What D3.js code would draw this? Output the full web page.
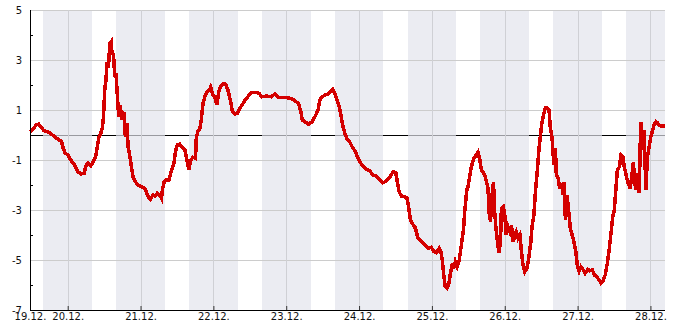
<!DOCTYPE html>
<html>
<head>
<meta charset="utf-8">
<script src="https://cdn.jsdelivr.net/npm/d3@7"></script>
<style>
  body { margin: 0; background: #fff; }
  svg { display: block; font-family: "DejaVu Sans", sans-serif; }
</style>
</head>
<body>
<div id="chart"></div>
<script>
// hours counted from 19.12. 00:00
const hours = [
  11.6, 13.7, 14.4, 15.3, 16.2, 17.5, 18.6, 19.7, 20.8, 21.9, 22.5, 23.2, 24.1, 25.0, 26.3, 27.4,
  28.5, 29.4, 30.1, 30.7, 31.6, 32.4, 33.2, 33.7, 34.2, 34.9, 35.4, 35.8, 36.2, 36.6, 37.0, 37.4,
  37.9, 38.3, 38.6, 39.1, 39.5, 39.9, 40.4, 40.8, 41.3, 41.9, 42.5, 43.0, 43.5, 43.9, 44.5, 45.0,
  45.5, 46.3, 47.2,
  48.5, 49.6, 50.5, 51.2, 52.1, 52.9, 53.5, 54.3, 54.9, 55.2, 55.8, 56.5, 57.4, 58.2, 59.0, 59.5,
  60.1, 60.9, 61.7, 62.6, 63.4, 63.9, 64.6, 65.3, 66.1, 66.4, 67.0, 67.6, 68.0, 68.6, 69.2, 69.9,
  70.7, 71.1, 71.9, 72.7, 73.1, 73.8, 74.4, 75.2, 76.0, 76.8, 77.7, 78.3, 79.1, 79.9, 80.7, 81.8,
  82.9,
  84.5, 85.8, 87.0, 88.0, 89.5, 91.1, 92.2, 93.3, 94.4, 95.7, 97.2, 98.3, 99.3, 100.1, 100.8, 101.3,
  102.3, 103.4, 104.5, 105.6, 106.5, 107.1, 107.8, 108.9, 109.8, 110.7, 111.3, 112.0, 112.9, 113.6,
  114.2, 114.7, 115.5, 116.2, 116.9, 117.7, 118.6, 119.7,
  120.2, 121.3, 122.4, 123.5, 124.6, 125.7, 126.8, 127.9, 129.0, 130.1, 131.2, 132.1, 132.6, 133.2,
  133.9, 135.1, 135.8, 136.4, 136.9, 137.5, 138.4, 138.9, 139.4, 140.5, 141.6, 142.7, 143.8, 144.7,
  145.5, 146.4, 146.9, 147.4, 147.9, 148.4, 149.0, 149.6, 150.1, 150.8, 151.2, 151.7, 152.3, 153.0,
  153.7, 154.4, 154.8, 155.5, 155.9,
  156.5, 157.0, 157.8, 158.6, 159.2, 159.8, 160.3, 160.9, 161.4, 162.0, 162.5, 162.8, 163.3, 163.8,
  164.3, 164.6, 165.1, 165.6, 166.1, 166.6, 166.9, 167.5, 168.0, 168.5, 169.1, 169.7, 170.2, 170.8,
  171.3, 171.8, 172.4, 173.0, 173.5, 174.0, 174.6, 175.3, 175.9, 176.6, 177.0, 177.6, 178.1, 178.7,
  179.2, 179.7, 180.3, 180.9, 181.4, 182.1, 182.6, 183.0, 183.6, 183.9, 184.3, 184.7, 185.0, 185.6,
  186.1, 186.7, 187.2, 187.5, 188.0, 188.5, 189.1, 189.6, 190.2, 190.8, 191.4, 191.9, 192.5,
  193.1, 193.9, 194.5, 195.4, 196.1, 196.9, 197.5, 198.3, 199.1, 199.7, 200.3, 201.1, 201.8, 202.4,
  203.0, 203.6, 204.1, 204.6, 205.1, 205.8, 206.3, 206.9, 207.4, 208.0, 208.5, 209.3, 209.9, 210.4,
  210.7, 211.2, 211.7, 212.3, 212.8, 213.4, 213.9, 214.5, 215.0, 215.6, 216.1, 216.6, 217.2, 217.8,
  218.3, 218.8, 219.5, 220.8
];

const temps = [
  0.13, 0.4, 0.44, 0.31, 0.17, 0.13, 0.04, -0.07, -0.17, -0.24, -0.53, -0.73, -0.8, -1.0, -1.2, -1.47,
  -1.56, -1.53, -1.2, -1.13, -1.24, -1.07, -0.87, -0.53, -0.13, 0.07, 0.27, 0.73, 1.8, 2.2, 2.93, 2.67,
  3.67, 3.73, 3.27, 3.2, 2.33, 2.47, 1.53, 0.73, 1.2, 0.6, 0.93, -0.07, 0.47, -0.47, -0.87, -1.27,
  -1.67, -1.87, -2.0,
  -2.07, -2.17, -2.47, -2.57, -2.4, -2.44, -2.33, -2.4, -2.53, -2.2, -1.87, -1.8, -1.8, -1.4, -1.13, -0.67,
  -0.4, -0.36, -0.49, -0.6, -1.07, -1.37, -1.0, -0.89, -0.93, -0.07, 0.17, 0.27, 0.6, 1.27, 1.53, 1.73,
  1.8, 1.91, 1.6, 1.47, 1.2, 1.73, 1.96, 2.04, 2.03, 1.8, 1.33, 0.93, 0.83, 0.87, 1.07, 1.27,
  1.47,
  1.69, 1.71, 1.67, 1.53, 1.56, 1.53, 1.64, 1.51, 1.51, 1.51, 1.47, 1.43, 1.33, 1.24, 0.93, 0.6,
  0.51, 0.43, 0.53, 0.76, 1.0, 1.4, 1.53, 1.6, 1.64, 1.77, 1.83, 1.67, 1.33, 1.07,
  0.67, 0.33, 0.0, -0.2, -0.27, -0.47, -0.63, -0.93,
  -1.07, -1.24, -1.37, -1.43, -1.6, -1.64, -1.77, -1.91, -1.84, -1.69, -1.47, -1.51, -1.87, -2.27,
  -2.44, -2.47, -2.53, -2.93, -3.4, -3.53, -3.69, -3.87, -4.13, -4.27, -4.4, -4.53, -4.49, -4.67,
  -4.71, -4.53, -4.63, -5.0, -5.6, -6.07, -6.13, -5.93, -5.53, -5.13, -5.33, -5.07, -5.27, -5.0,
  -4.4, -3.8, -3.07, -2.2, -2.07,
  -1.6, -1.27, -0.93, -0.8, -0.69, -1.0, -1.4, -1.49, -1.6, -1.89, -2.13, -3.07, -3.47, -2.4,
  -1.89, -2.93, -3.73, -4.27, -4.73, -4.27, -2.93, -2.87, -3.2, -4.0, -3.67, -3.87, -3.6, -4.27,
  -4.0, -3.87, -4.13, -4.0, -4.67, -5.2, -5.47, -5.33, -4.93, -4.27, -3.67, -3.2, -2.27, -1.47,
  -0.67, -0.07, 0.53, 0.87, 1.09, 1.07, 1.0, 0.33, -0.13, -0.73, -1.2, -0.53, -1.6, -1.73,
  -2.13, -1.93, -2.4, -1.87, -3.4, -2.4, -3.07, -3.73, -4.0, -4.27, -4.67, -5.2, -5.45,
  -5.27, -5.4, -5.53, -5.37, -5.43, -5.4, -5.6, -5.67, -5.8, -5.93, -5.87, -5.6, -5.13, -4.6,
  -3.93, -3.27, -3.0, -2.2, -1.4, -1.27, -0.8, -0.87, -1.27, -1.6, -1.87, -2.13, -1.6, -1.07,
  -1.8, -2.2, -1.53, -2.33, 0.53, -0.6, 0.2, -2.2, -0.87, -0.47, -0.07, 0.13, 0.4, 0.53,
  0.49, 0.4, 0.36, 0.36
];

const dayLabels = ["19.12.", "20.12.", "21.12.", "22.12.", "23.12.", "24.12.", "25.12.", "26.12.", "27.12.", "28.12."];
const yLabels = [5, 3, 1, -1, -3, -5, -7];
const yMinor = [4, 2, -2, -4, -6];

const width = 685;
const height = 330;
const marginTop = 10;
const marginRight = 20;
const marginBottom = 20;
const marginLeft = 30;

const base = new Date(2012, 11, 19);
const toDate = h => new Date(base.getTime() + h * 3600e3);

const data = hours.map((h, i) => ({ date: toDate(h), value: temps[i] }));
const start = toDate(11.58);
const end = toDate(220.8);

const svg = d3.select("#chart")
  .append("svg")
  .attr("width", width)
  .attr("height", height);

const x = d3.scaleTime()
  .domain([start, end])
  .range([marginLeft, width - marginRight]);

const y = d3.scaleLinear()
  .domain([-7, 5])
  .range([height - marginBottom, marginTop]);

const days = d3.range(1, dayLabels.length).map(i => toDate(i * 24));
const tickDates = [start].concat(days);

// zero line, shows through the night bands
svg.append("line")
  .attr("x1", x.range()[0]).attr("x2", x.range()[1])
  .attr("y1", y(0)).attr("y2", y(0))
  .attr("stroke", "#000")
  .attr("shape-rendering", "crispEdges");

// nights 16:00 - 08:00
const nights = d3.range(0, dayLabels.length).map(i => ({
  from: d3.max([start, toDate(i * 24 + 16)]),
  to: d3.min([end, toDate(i * 24 + 32)])
})).filter(d => d.from < d.to);

svg.append("g")
  .selectAll("rect")
  .data(nights)
  .join("rect")
  .attr("x", d => x(d.from))
  .attr("width", d => x(d.to) - x(d.from))
  .attr("y", marginTop)
  .attr("height", y(-7) - y(5))
  .attr("fill", "rgb(226,227,236)")
  .attr("fill-opacity", 0.68)
  .attr("shape-rendering", "crispEdges");

// grid
svg.append("g")
  .selectAll("line")
  .data(yLabels.filter(d => d > -7))
  .join("line")
  .attr("x1", x.range()[0]).attr("x2", x.range()[1])
  .attr("y1", d => y(d)).attr("y2", d => y(d))
  .attr("stroke", "#cccccc")
  .attr("shape-rendering", "crispEdges");

svg.append("g")
  .selectAll("line")
  .data(days)
  .join("line")
  .attr("x1", d => Math.round(x(d)) + 0.5).attr("x2", d => Math.round(x(d)) + 0.5)
  .attr("y1", marginTop).attr("y2", height - marginBottom)
  .attr("stroke", "#cfd0d5");

const line = d3.line()
  .x(d => x(d.date))
  .y(d => y(d.value));

svg.append("path")
  .datum(data)
  .attr("fill", "none")
  .attr("stroke", "#d40000")
  .attr("stroke-width", 3.5)
  .attr("stroke-linejoin", "miter")
  .attr("shape-rendering", "crispEdges")
  .attr("d", line);

// axes
svg.append("g")
  .attr("transform", `translate(0,${height - marginBottom})`)
  .call(d3.axisBottom(x).tickValues(tickDates).tickFormat((d, i) => dayLabels[i]).tickSize(0).tickPadding(3))
  .call(g => g.select(".domain").remove())
  .call(g => g.selectAll("text").attr("fill", "#111").attr("font-size", 10).attr("font-family", "DejaVu Sans"));

svg.append("g")
  .attr("transform", `translate(0,${height - marginBottom})`)
  .call(d3.axisTop(x).tickValues(days).tickFormat("").tickSize(4).tickSizeOuter(0))
  .call(g => g.select(".domain").remove())
  .call(g => g.selectAll("line").attr("stroke", "#333"));

svg.append("g")
  .attr("transform", `translate(${marginLeft},0)`)
  .call(d3.axisLeft(y).tickValues(yLabels).tickFormat(d => String(d)).tickSize(0).tickPadding(8))
  .call(g => g.select(".domain").remove())
  .call(g => g.selectAll("text").attr("fill", "#111").attr("font-size", 10).attr("font-family", "DejaVu Sans"));

svg.append("g")
  .attr("transform", `translate(${marginLeft},0)`)
  .call(d3.axisRight(y).tickValues(yMinor).tickFormat("").tickSize(3))
  .call(g => g.select(".domain").remove())
  .call(g => g.selectAll("line").attr("stroke", "#000"));

svg.append("line")
  .attr("x1", marginLeft + 0.5).attr("x2", marginLeft + 0.5)
  .attr("y1", marginTop).attr("y2", height - marginBottom)
  .attr("stroke", "#000");

svg.append("line")
  .attr("x1", marginLeft).attr("x2", width - marginRight)
  .attr("y1", height - marginBottom + 0.5).attr("y2", height - marginBottom + 0.5)
  .attr("stroke", "#000");
</script>
</body>
</html>
